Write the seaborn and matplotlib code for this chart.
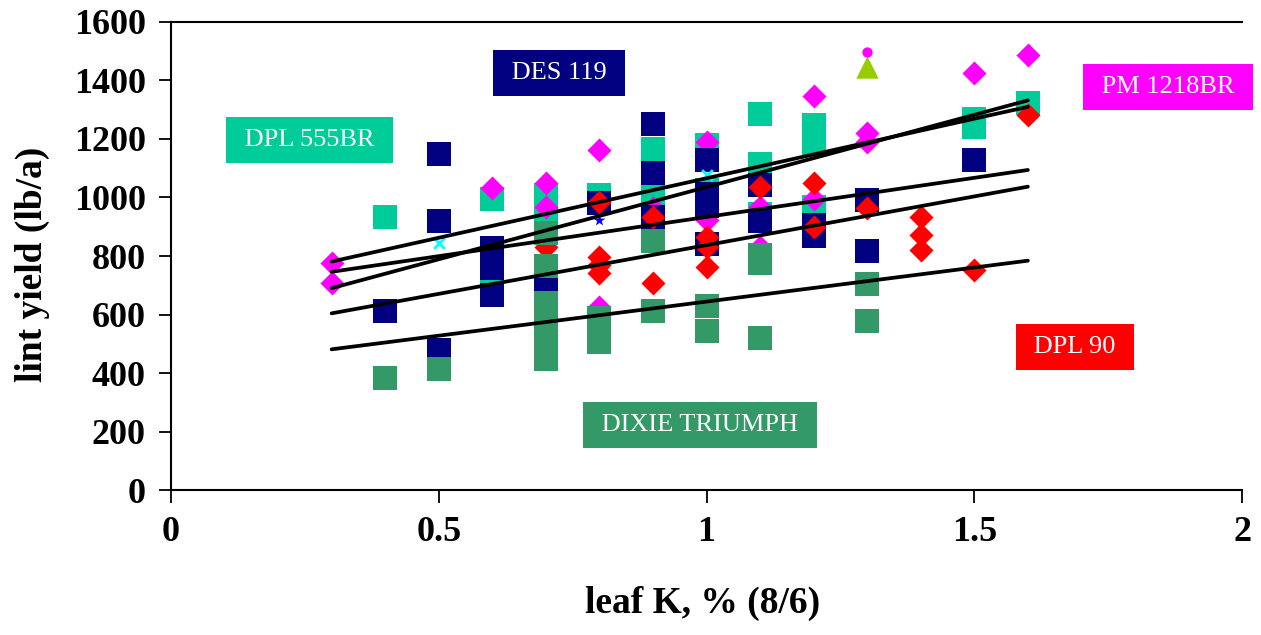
import pandas as pd
import seaborn as sns
import matplotlib
matplotlib.use("Agg")
import matplotlib.pyplot as plt

# leaf K (%) and lint yield (lb/a), per variety
k_555 = [0.4, 0.6, 0.6, 0.7, 0.7, 0.8, 0.9, 0.9, 1.0, 1.0, 1.1, 1.1, 1.1, 1.2, 1.2, 1.2, 1.5, 1.5, 1.6]
y_555 = [935, 995, 745, 1010, 960, 1008, 1166, 1015, 1180, 1026, 1286, 1115, 944, 1248, 1183, 968, 1268, 1241, 1323]

k_pm = [0.3, 0.3, 0.6, 0.7, 0.7, 0.8, 0.8, 0.9, 1.0, 1.0, 1.1, 1.1, 1.2, 1.2, 1.3, 1.3, 1.5, 1.6]
y_pm = [776, 708, 1033, 1050, 968, 1162, 627, 964, 1190, 923, 968, 830, 1347, 994, 1220, 1190, 1425, 1487]

k_des = [0.4, 0.5, 0.5, 0.5, 0.6, 0.6, 0.6, 0.7, 0.8, 0.9, 0.9, 0.9, 1.0, 1.0, 1.0, 1.0, 1.1, 1.1, 1.2, 1.2, 1.3, 1.3, 1.5]
y_des = [612, 1149, 920, 480, 827, 760, 667, 718, 980, 1250, 1084, 933, 1128, 1012, 971, 841, 1043, 920, 906, 869, 992, 817, 1129]

k_90 = [0.7, 0.8, 0.8, 0.8, 0.8, 0.9, 0.9, 1.0, 1.0, 1.0, 1.1, 1.2, 1.2, 1.3, 1.4, 1.4, 1.4, 1.5, 1.6]
y_90 = [831, 985, 797, 770, 742, 934, 708, 865, 831, 762, 1036, 1050, 899, 964, 934, 872, 821, 752, 1282]

k_dt = [0.4, 0.5, 0.7, 0.7, 0.7, 0.7, 0.7, 0.7, 0.8, 0.8, 0.9, 0.9, 1.0, 1.0, 1.1, 1.1, 1.1, 1.3, 1.3]
y_dt = [383, 413, 878, 766, 640, 561, 486, 448, 588, 506, 851, 612, 629, 543, 803, 776, 520, 704, 577]

# odd single points
k_cross = [0.5, 1.0]
y_cross = [845, 1077]
k_star = [0.8]
y_star = [923]
k_tri = [1.3]
y_tri = [1445]
k_dot = [1.3]
y_dot = [1498]

# linear trend ends (x = 0.3 and 1.6)
trend_k = [0.3, 1.6]
trend_pm = [690, 1332]
trend_555 = [781, 1310]
trend_des = [746, 1094]
trend_90 = [604, 1037]
trend_dt = [481, 784]

sns.set_style("ticks")
plt.rcParams['font.family'] = ['Liberation Serif', 'DejaVu Serif']
plt.rcParams['text.color'] = 'black'
plt.rcParams['axes.labelcolor'] = 'black'
plt.rcParams['xtick.color'] = 'black'
plt.rcParams['ytick.color'] = 'black'

fig = plt.figure(figsize=(12.61, 6.35), dpi=100)
ax = fig.add_axes([0.1356, 0.2283, 0.8494, 0.7371])

# draw order matters, the later varieties sit on top
series = [
    (k_555, y_555, '#00CC99', 's', 300),
    (k_pm, y_pm, '#FF00FF', 'D', 150),
    (k_des, y_des, '#000080', 's', 300),
    (k_90, y_90, '#FF0000', 'D', 150),
    (k_dt, y_dt, '#339966', 's', 300),
]
for kk, yy, col, mk, sz in series:
    sns.scatterplot(x=kk, y=yy, color=col, marker=mk, s=sz, linewidth=0, ax=ax)

sns.scatterplot(x=k_cross, y=y_cross, color='#00FFFF', marker='x', s=60, linewidth=2, ax=ax)
sns.scatterplot(x=k_star, y=y_star, color='#0000FF', marker='*', s=80, linewidth=0, ax=ax)
sns.scatterplot(x=k_tri, y=y_tri, color='#99CC00', marker='^', s=260, linewidth=0, ax=ax)
sns.scatterplot(x=k_dot, y=y_dot, color='#FF00FF', marker='o', s=55, linewidth=0, ax=ax)

for tr in [trend_pm, trend_555, trend_des, trend_90, trend_dt]:
    sns.lineplot(x=trend_k, y=tr, color='black', linewidth=2.7, ax=ax)

ax.set_xlim(0, 2)
ax.set_ylim(0, 1600)
ax.set_xticks([0, 0.5, 1, 1.5, 2])
ax.set_xticklabels(['0', '0.5', '1', '1.5', '2'])
ax.set_yticks(range(0, 1601, 200))
ax.tick_params(axis='both', direction='out', length=9, width=1.3, labelsize=26, colors='black')
ax.tick_params(axis='x', pad=10)
ax.tick_params(axis='y', pad=9)
for lab in ax.get_xticklabels() + ax.get_yticklabels():
    lab.set_fontweight('bold')

ax.spines['right'].set_visible(False)
for sp in ['left', 'bottom', 'top']:
    ax.spines[sp].set_linewidth(1.5)
    ax.spines[sp].set_color('black')

ax.set_xlabel('leaf K, % (8/6)', fontsize=27, fontweight='bold', color='black')
ax.set_ylabel('lint yield (lb/a)', fontsize=27, fontweight='bold', color='black')
ax.xaxis.set_label_coords(0.496, -0.205)
ax.yaxis.set_label_coords(-0.113, 0.483)

# variety tags
tags = [
    ('DES 119', 0.725, 1426, '#000080'),
    ('DPL 555BR', 0.258, 1197, '#00CC99'),
    ('PM 1218BR', 1.862, 1378, '#FF00FF'),
    ('DPL 90', 1.688, 489, '#FF0000'),
    ('DIXIE TRIUMPH', 0.988, 222, '#339966'),
]
for txt, tx, ty, col in tags:
    ax.text(tx, ty, ' ' + txt + ' ', color='white', fontsize=19, ha='center', va='center',
            bbox=dict(boxstyle='square,pad=0.45', fc=col, ec='none'))

fig.savefig('out.png', dpi=100)
